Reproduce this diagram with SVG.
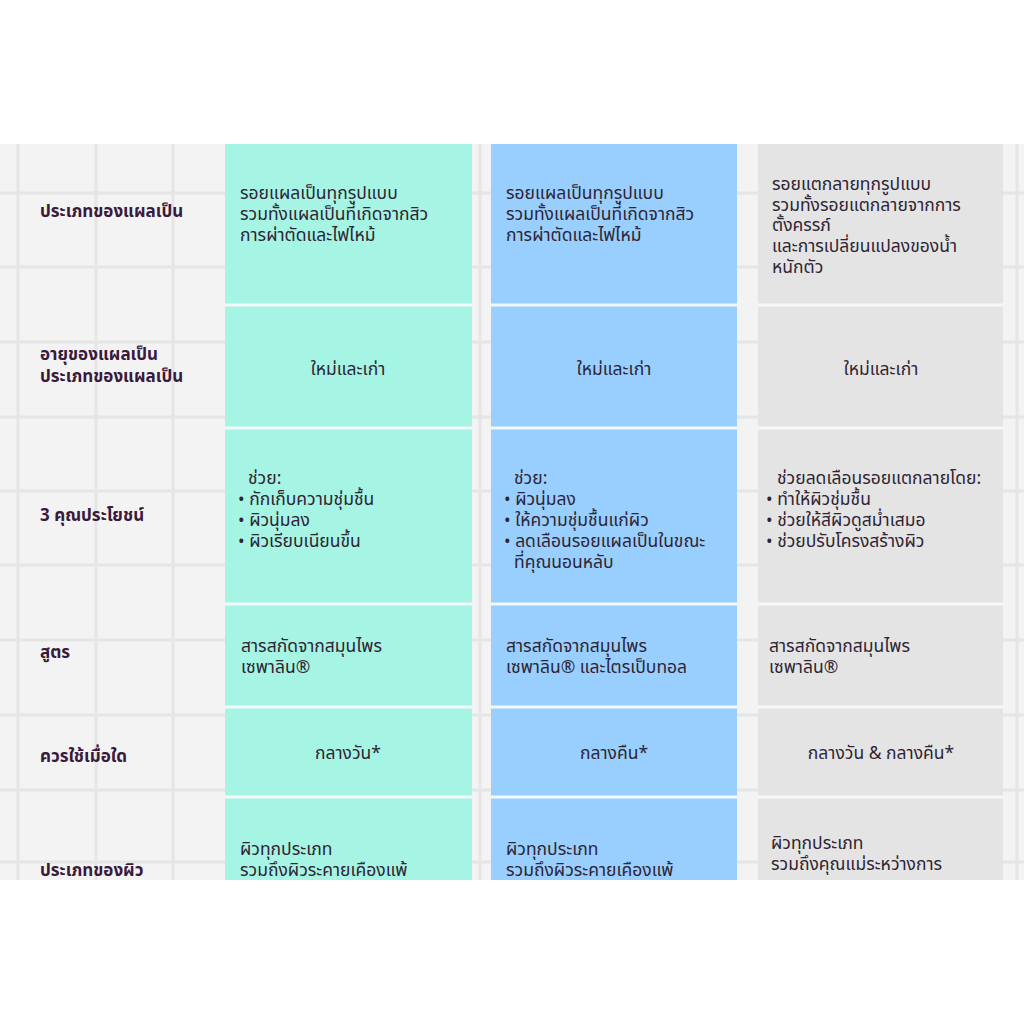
<svg xmlns="http://www.w3.org/2000/svg" width="1024" height="1024" viewBox="0 0 1024 1024">
<defs>
<style>
.lbl{font-family:"Noto Sans Thai","Noto Sans","DejaVu Sans",sans-serif;font-size:17px;font-weight:bold;fill:#3a1a3c}
.txt{font-family:"Noto Sans Thai","Noto Sans","DejaVu Sans",sans-serif;font-size:17.5px;fill:#2f2434}
.c{text-anchor:middle}
.grid{stroke:#e5e5e5;stroke-width:3}
.sep{stroke:#f4f8fb;stroke-width:3}
.mint{fill:#a6f4e3}
.blue{fill:#99cffe}
.gray{fill:#e4e4e4}
</style>
<clipPath id="tbl"><rect x="0" y="144" width="1024" height="736"/></clipPath>
</defs>
<rect width="1024" height="1024" fill="#ffffff"/>
<g clip-path="url(#tbl)">
<g id="background">
<rect x="0" y="144" width="1024" height="736" fill="#f3f3f3"/>
<g class="grid">
<line x1="18" y1="144" x2="18" y2="880"/><line x1="96" y1="144" x2="96" y2="880"/><line x1="173" y1="144" x2="173" y2="880"/><line x1="250" y1="144" x2="250" y2="880"/><line x1="327" y1="144" x2="327" y2="880"/><line x1="404" y1="144" x2="404" y2="880"/><line x1="480" y1="144" x2="480" y2="880"/><line x1="557" y1="144" x2="557" y2="880"/><line x1="634" y1="144" x2="634" y2="880"/><line x1="711" y1="144" x2="711" y2="880"/><line x1="788" y1="144" x2="788" y2="880"/><line x1="864" y1="144" x2="864" y2="880"/><line x1="941" y1="144" x2="941" y2="880"/><line x1="1017" y1="144" x2="1017" y2="880"/>
<line x1="0" y1="193" x2="1024" y2="193"/><line x1="0" y1="267" x2="1024" y2="267"/><line x1="0" y1="342" x2="1024" y2="342"/><line x1="0" y1="417" x2="1024" y2="417"/><line x1="0" y1="491" x2="1024" y2="491"/><line x1="0" y1="565" x2="1024" y2="565"/><line x1="0" y1="640" x2="1024" y2="640"/><line x1="0" y1="715" x2="1024" y2="715"/><line x1="0" y1="790" x2="1024" y2="790"/><line x1="0" y1="862" x2="1024" y2="862"/>
</g>
</g>
<g id="columns">
<rect class="mint" x="225" y="144" width="247" height="736"/>
<rect class="blue" x="491" y="144" width="246" height="736"/>
<rect class="gray" x="758" y="144" width="245" height="736"/>
<g class="sep">
<line x1="225" y1="305" x2="472" y2="305"/><line x1="491" y1="305" x2="737" y2="305"/><line x1="758" y1="305" x2="1003" y2="305"/>
<line x1="225" y1="428" x2="472" y2="428"/><line x1="491" y1="428" x2="737" y2="428"/><line x1="758" y1="428" x2="1003" y2="428"/>
<line x1="225" y1="604" x2="472" y2="604"/><line x1="491" y1="604" x2="737" y2="604"/><line x1="758" y1="604" x2="1003" y2="604"/>
<line x1="225" y1="707" x2="472" y2="707"/><line x1="491" y1="707" x2="737" y2="707"/><line x1="758" y1="707" x2="1003" y2="707"/>
<line x1="225" y1="797" x2="472" y2="797"/><line x1="491" y1="797" x2="737" y2="797"/><line x1="758" y1="797" x2="1003" y2="797"/>
</g>
</g>
<g id="labels">
<text class="lbl" x="40" y="217">ประเภทของแผลเป็น</text>
<text class="lbl" x="40" y="360">อายุของแผลเป็น</text>
<text class="lbl" x="40" y="382">ประเภทของแผลเป็น</text>
<text class="lbl" x="40" y="521">3 คุณประโยชน์</text>
<text class="lbl" x="40" y="658">สูตร</text>
<text class="lbl" x="40" y="762">ควรใช้เมื่อใด</text>
<text class="lbl" x="40" y="876">ประเภทของผิว</text>
</g>
<g id="row-scar-type">
<text class="txt" x="240" y="199">รอยแผลเป็นทุกรูปแบบ</text>
<text class="txt" x="240" y="220">รวมทั้งแผลเป็นที่เกิดจากสิว</text>
<text class="txt" x="240" y="241">การผ่าตัดและไฟไหม้</text>
<text class="txt" x="506" y="199">รอยแผลเป็นทุกรูปแบบ</text>
<text class="txt" x="506" y="220">รวมทั้งแผลเป็นที่เกิดจากสิว</text>
<text class="txt" x="506" y="241">การผ่าตัดและไฟไหม้</text>
<text class="txt" x="772" y="190">รอยแตกลายทุกรูปแบบ</text>
<text class="txt" x="772" y="211">รวมทั้งรอยแตกลายจากการ</text>
<text class="txt" x="772" y="231">ตั้งครรภ์</text>
<text class="txt" x="772" y="252">และการเปลี่ยนแปลงของน้ำ</text>
<text class="txt" x="772" y="273">หนักตัว</text>
</g>
<g id="row-age">
<text class="txt c" x="348" y="375">ใหม่และเก่า</text>
<text class="txt c" x="614" y="375">ใหม่และเก่า</text>
<text class="txt c" x="881" y="375">ใหม่และเก่า</text>
</g>
<g id="row-benefits">
<text class="txt" x="248" y="484">ช่วย:</text>
<text class="txt" x="238" y="505">• กักเก็บความชุ่มชื้น</text>
<text class="txt" x="238" y="526">• ผิวนุ่มลง</text>
<text class="txt" x="238" y="547">• ผิวเรียบเนียนขึ้น</text>
<text class="txt" x="514" y="484">ช่วย:</text>
<text class="txt" x="504" y="505">• ผิวนุ่มลง</text>
<text class="txt" x="504" y="526">• ให้ความชุ่มชื้นแก่ผิว</text>
<text class="txt" x="504" y="547">• ลดเลือนรอยแผลเป็นในขณะ</text>
<text class="txt" x="514" y="568">ที่คุณนอนหลับ</text>
<text class="txt" x="777" y="484">ช่วยลดเลือนรอยแตกลายโดย:</text>
<text class="txt" x="766" y="505">• ทำให้ผิวชุ่มชื้น</text>
<text class="txt" x="766" y="526">• ช่วยให้สีผิวดูสม่ำเสมอ</text>
<text class="txt" x="766" y="547">• ช่วยปรับโครงสร้างผิว</text>
</g>
<g id="row-formula">
<text class="txt" x="241" y="652">สารสกัดจากสมุนไพร</text>
<text class="txt" x="241" y="673">เซพาลิน®</text>
<text class="txt" x="506" y="652">สารสกัดจากสมุนไพร</text>
<text class="txt" x="506" y="673">เซพาลิน® และไตรเป็บทอล</text>
<text class="txt" x="769" y="652">สารสกัดจากสมุนไพร</text>
<text class="txt" x="769" y="673">เซพาลิน®</text>
</g>
<g id="row-when">
<text class="txt c" x="348" y="759">กลางวัน*</text>
<text class="txt c" x="614" y="759">กลางคืน*</text>
<text class="txt c" x="881" y="759">กลางวัน &amp; กลางคืน*</text>
</g>
<g id="row-skin-type">
<text class="txt" x="240" y="855">ผิวทุกประเภท</text>
<text class="txt" x="240" y="876">รวมถึงผิวระคายเคืองแพ้</text>
<text class="txt" x="506" y="855">ผิวทุกประเภท</text>
<text class="txt" x="506" y="876">รวมถึงผิวระคายเคืองแพ้</text>
<text class="txt" x="771" y="849">ผิวทุกประเภท</text>
<text class="txt" x="771" y="870">รวมถึงคุณแม่ระหว่างการ</text>
</g>
</g>
</svg>
